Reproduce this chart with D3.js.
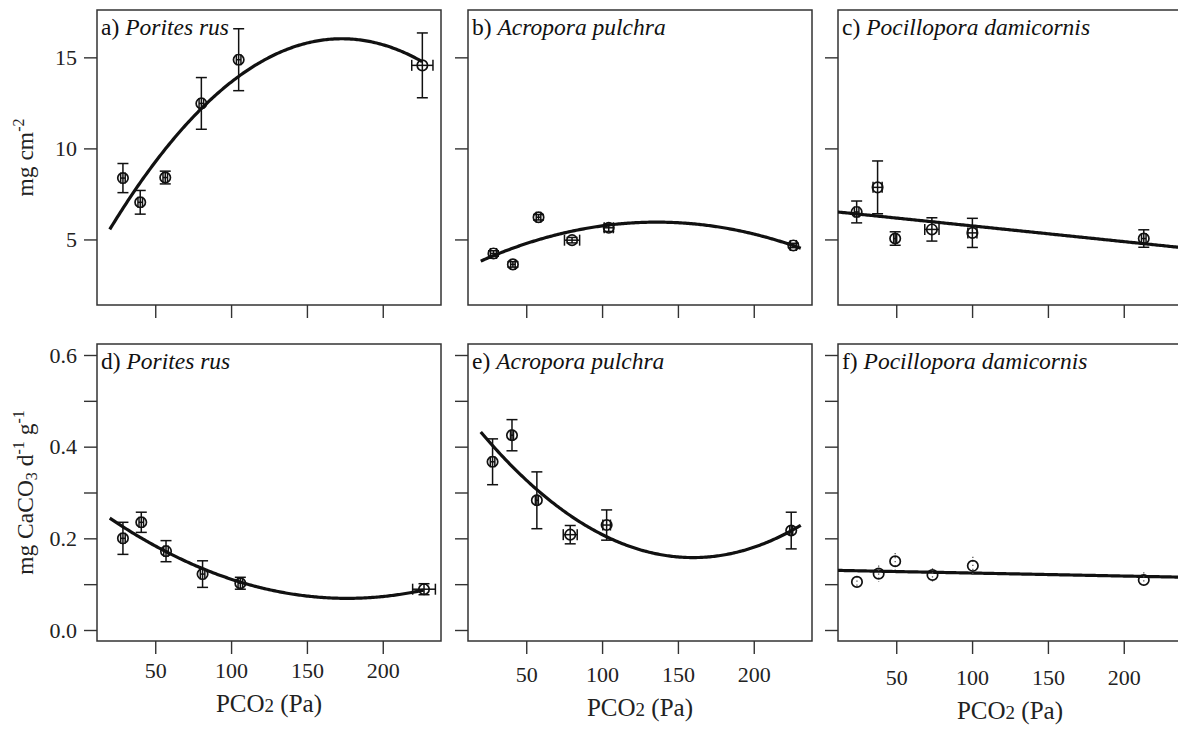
<!DOCTYPE html>
<html>
<head>
<meta charset="utf-8">
<script src="https://cdn.jsdelivr.net/npm/d3@7"></script>
<style>
  body { margin: 0; background: #fff; }
  svg, svg text { font-family: "Liberation Serif", "DejaVu Serif", serif; }
  .tick text { font-size: 22px; fill: #222; }
  .tick line { stroke: #333; stroke-width: 1.4; }
</style>
</head>
<body>
<div id="chart"></div>
<script>
////////////////////////////////////////////////////////////////////
////////////////////////////  Data  ///////////////////////////////

const xTicks = [50, 100, 150, 200];
const topTicks = [5, 10, 15];
const bottomTicks = [0, 0.1, 0.2, 0.3, 0.4, 0.5, 0.6];
const bottomLabelled = [0, 0.2, 0.4, 0.6];

const panelTags = ["a)", "b)", "c)", "d)", "e)", "f)"];
const species = ["Porites rus", "Acropora pulchra", "Pocillopora damicornis",
                 "Porites rus", "Acropora pulchra", "Pocillopora damicornis"];

// a) Porites rus, mg cm-2
const pco_a = [28.7, 40.1, 56.6, 80.4, 105, 226.1];
const val_a = [8.37, 7.04, 8.4, 12.47, 14.87, 14.56];
const err_a = [0.8, 0.65, 0.35, 1.42, 1.7, 1.78];
const xerr_a = [1.5, 1.5, 1.5, 1.5, 1.5, 7];
const fit_a = [2.633, 0.15477, -4.473e-4];
const span_a = [20, 226];

// b) Acropora pulchra, mg cm-2
const pco_b = [28.4, 41.2, 58.1, 80.2, 104.4, 226.1];
const val_b = [4.23, 3.63, 6.22, 4.96, 5.64, 4.67];
const err_b = [0.15, 0.15, 0.15, 0.15, 0.2, 0.12];
const xerr_b = [2, 1.5, 1.5, 5, 3, 2];
const fit_b = [3.009, 0.043248, -1.59e-4];
const span_b = [20, 231];

// c) Pocillopora damicornis, mg cm-2
const pco_c = [23.9, 37.7, 49.3, 73.5, 100.2, 213.2];
const val_c = [6.51, 7.86, 5.05, 5.55, 5.36, 5.05];
const err_c = [0.6, 1.45, 0.37, 0.64, 0.8, 0.48];
const xerr_c = [1.5, 3, 1, 4.7, 3, 1.5];
const fit_c = [6.607, -0.008628, 0];
const span_c = [0, 260];

// d) Porites rus, mg CaCO3 d-1 g-1
const pco_d = [28.7, 40.8, 57.1, 81.2, 106.1, 227.2];
const val_d = [0.2, 0.235, 0.172, 0.122, 0.102, 0.089];
const err_d = [0.035, 0.022, 0.023, 0.029, 0.013, 0.012];
const xerr_d = [1.5, 1.5, 1.5, 1.5, 1.5, 7.5];
const fit_d = [0.2916, -0.0025204, 7.136e-6];
const span_d = [20, 227];

// e) Acropora pulchra, mg CaCO3 d-1 g-1
const pco_e = [27.8, 40.6, 57, 79, 103, 224.7];
const val_e = [0.367, 0.425, 0.283, 0.208, 0.229, 0.217];
const err_e = [0.05, 0.034, 0.062, 0.02, 0.033, 0.04];
const xerr_e = [1.5, 1, 1, 4.6, 2.5, 1];
const fit_e = [0.5159, -0.0044736, 1.398e-5];
const span_e = [20, 231];

// f) Pocillopora damicornis, mg CaCO3 d-1 g-1
const pco_f = [24.1, 38.4, 49.3, 73.9, 100.5, 213.2];
const val_f = [0.105, 0.123, 0.15, 0.12, 0.14, 0.109];
const err_f = [0.012, 0.018, 0.018, 0.015, 0.02, 0.017];
const xerr_f = [0, 0, 0, 0, 0, 0];
const fit_f = [0.1308, -6.53e-5, 0];
const span_f = [0, 260];

////////////////////////////////////////////////////////////////////
////////////////////////////  Layout  /////////////////////////////

const width = 1178, height = 730;
const colLeft = [97, 468, 838];
const panelW = 344;
const rowTop = [10, 344];
const rowBottom = [305, 641];
const serif = "Liberation Serif, DejaVu Serif, serif";

const panels = [
  { pco: pco_a, val: val_a, err: err_a, xerr: xerr_a, fit: fit_a, span: span_a },
  { pco: pco_b, val: val_b, err: err_b, xerr: xerr_b, fit: fit_b, span: span_b },
  { pco: pco_c, val: val_c, err: err_c, xerr: xerr_c, fit: fit_c, span: span_c },
  { pco: pco_d, val: val_d, err: err_d, xerr: xerr_d, fit: fit_d, span: span_d },
  { pco: pco_e, val: val_e, err: err_e, xerr: xerr_e, fit: fit_e, span: span_e },
  { pco: pco_f, val: val_f, err: err_f, xerr: xerr_f, fit: fit_f, span: span_f, dotted: true },
];

// small per-panel drift of the bottom labels, as in the scan
const xLabelShift = [0, 4, 7];

const svg = d3.select("#chart").append("svg")
  .attr("width", width)
  .attr("height", height)
  .attr("font-family", serif);

const poly = (c, x) => c[0] + c[1] * x + c[2] * x * x;

panels.forEach((p, i) => {
  const row = Math.floor(i / 3), col = i % 3;
  const x0 = colLeft[col], x1 = x0 + panelW;
  const y0 = rowTop[row], y1 = rowBottom[row];

  const xScale = d3.scaleLinear().domain([11.6, 238.4]).range([x0, x1]);
  const yScale = row === 0
    ? d3.scaleLinear().domain([1.4, 17.6]).range([y1, y0])
    : d3.scaleLinear().domain([-0.024, 0.624]).range([y1, y0]);

  const g = svg.append("g").attr("class", "panel-" + i);

  // clip for the fit lines
  svg.append("clipPath").attr("id", "clip" + i)
    .append("rect").attr("x", x0).attr("y", y0)
    .attr("width", x1 - x0).attr("height", y1 - y0);

  // axes
  const xAxis = d3.axisBottom(xScale).tickValues(xTicks)
    .tickSize(13).tickSizeOuter(0).tickPadding(8 + xLabelShift[col])
    .tickFormat(row === 1 ? d3.format("d") : () => "");
  const yAxis = d3.axisLeft(yScale)
    .tickValues(row === 0 ? topTicks : bottomTicks)
    .tickSize(13).tickSizeOuter(0).tickPadding(7)
    .tickFormat(col !== 0 ? () => "" :
      row === 0 ? d3.format("d") :
      (d) => bottomLabelled.some((v) => Math.abs(v - d) < 1e-9) ? d3.format(".1f")(d) : "");

  g.append("g").attr("transform", `translate(0, ${y1})`).call(xAxis)
    .attr("font-family", serif).attr("font-size", 22)
    .call((a) => a.select(".domain").remove());
  g.append("g").attr("transform", `translate(${x0}, 0)`).call(yAxis)
    .attr("font-family", serif).attr("font-size", 22)
    .call((a) => a.select(".domain").remove());

  // frame
  g.append("rect")
    .attr("x", x0).attr("y", y0)
    .attr("width", x1 - x0).attr("height", y1 - y0)
    .attr("fill", "none").attr("stroke", "#333").attr("stroke-width", 1.5);

  // fitted curve
  const xs = d3.range(p.span[0], p.span[1] + 0.5, 1);
  const line = d3.line()
    .x((d) => xScale(d))
    .y((d) => yScale(poly(p.fit, d)));
  g.append("path")
    .datum(xs)
    .attr("d", line)
    .attr("clip-path", `url(#clip${i})`)
    .attr("fill", "none")
    .attr("stroke", "#111")
    .attr("stroke-width", 3.2);

  // error bars
  const cap = 5.5;
  const pts = p.pco.map((x, k) => ({ x, y: p.val[k], e: p.err[k], ex: p.xerr[k] }));
  const bars = g.append("g")
    .attr("stroke", p.dotted ? "#555" : "#111")
    .attr("stroke-width", p.dotted ? 1.3 : 1.5)
    .attr("stroke-dasharray", p.dotted ? "1.3,2.7" : null);

  pts.forEach((d) => {
    const cx = xScale(d.x), cy = yScale(d.y);
    const ya = yScale(d.y + d.e), yb = yScale(d.y - d.e);
    bars.append("line").attr("x1", cx).attr("x2", cx).attr("y1", ya).attr("y2", yb);
    if (!p.dotted) {
      bars.append("line").attr("x1", cx - cap).attr("x2", cx + cap).attr("y1", ya).attr("y2", ya);
      bars.append("line").attr("x1", cx - cap).attr("x2", cx + cap).attr("y1", yb).attr("y2", yb);
    }
    if (d.ex > 0) {
      const xa = xScale(d.x - d.ex), xb = xScale(d.x + d.ex);
      bars.append("line").attr("x1", xa).attr("x2", xb).attr("y1", cy).attr("y2", cy);
      bars.append("line").attr("x1", xa).attr("x2", xa).attr("y1", cy - cap).attr("y2", cy + cap);
      bars.append("line").attr("x1", xb).attr("x2", xb).attr("y1", cy - cap).attr("y2", cy + cap);
    }
  });

  // points
  g.selectAll("circle.pt")
    .data(pts)
    .join("circle")
    .attr("class", "pt")
    .attr("cx", (d) => xScale(d.x))
    .attr("cy", (d) => yScale(d.y))
    .attr("r", 5.2)
    .attr("fill", "none")
    .attr("stroke", "#111")
    .attr("stroke-width", 1.7);

  // panel tag
  const tag = g.append("text")
    .attr("x", x0 + 4)
    .attr("y", y0 + 25)
    .attr("font-family", serif)
    .attr("font-size", 23.5)
    .attr("fill", "#111");
  tag.append("tspan").text(panelTags[i] + " ");
  tag.append("tspan").attr("font-style", "italic").text(species[i]);

  // x label on bottom row
  if (row === 1) {
    const t = g.append("text")
      .attr("x", (x0 + x1) / 2)
      .attr("y", y1 + 71 + xLabelShift[col])
      .attr("text-anchor", "middle")
      .attr("font-family", serif)
      .attr("font-size", 25)
      .attr("fill", "#222");
    t.append("tspan").text("PCO");
    t.append("tspan").attr("font-size", 19).text("2");
    t.append("tspan").text(" (Pa)");
  }
});

// y labels
const yl1 = svg.append("text")
  .attr("transform", `translate(33, ${(rowTop[0] + rowBottom[0]) / 2}) rotate(-90)`)
  .attr("text-anchor", "middle")
  .attr("font-size", 23.5)
  .attr("fill", "#222");
yl1.append("tspan").text("mg cm");
yl1.append("tspan").attr("font-size", 16).attr("dy", -9).text("-2");

const yl2 = svg.append("text")
  .attr("transform", `translate(33, ${(rowTop[1] + rowBottom[1]) / 2}) rotate(-90)`)
  .attr("text-anchor", "middle")
  .attr("font-size", 23.5)
  .attr("fill", "#222");
yl2.append("tspan").text("mg CaCO");
yl2.append("tspan").attr("font-size", 16).attr("dy", 4).text("3");
yl2.append("tspan").attr("dy", -4).text(" d");
yl2.append("tspan").attr("font-size", 16).attr("dy", -9).text("-1");
yl2.append("tspan").attr("dy", 9).text(" g");
yl2.append("tspan").attr("font-size", 16).attr("dy", -9).text("-1");
</script>
</body>
</html>
